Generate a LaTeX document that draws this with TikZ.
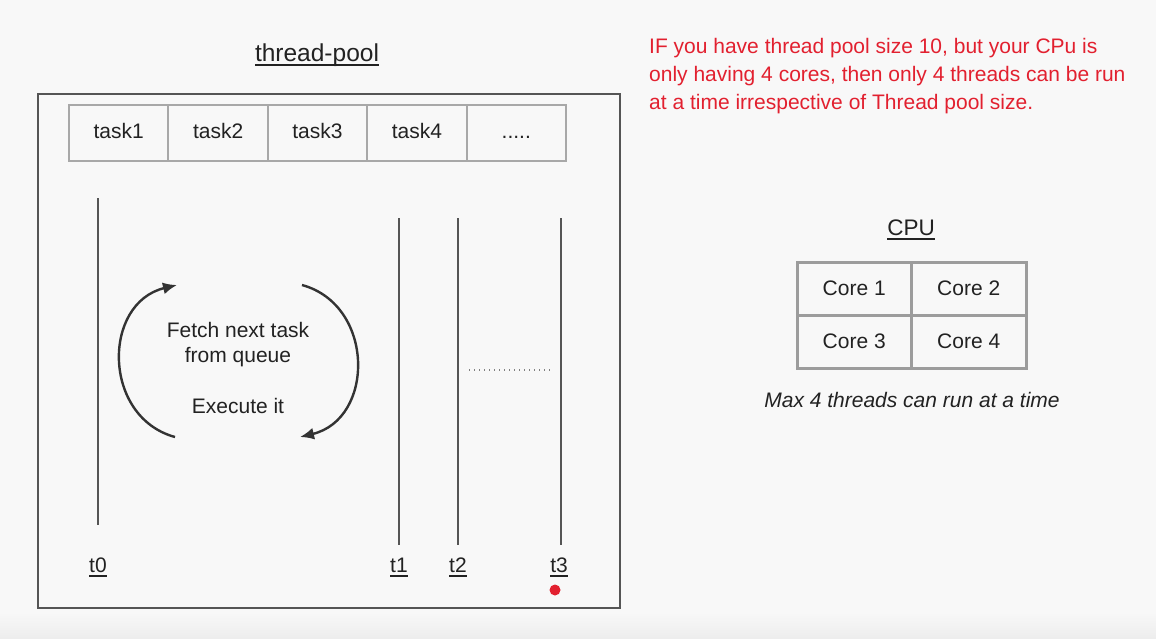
\documentclass[tikz,border=0pt]{standalone}
\usepackage{fontspec}
\setmainfont{Liberation Sans}
\usetikzlibrary{arrows.meta}
\definecolor{bg}{HTML}{F8F8F8}
\definecolor{bgdark}{HTML}{EDEDED}
\definecolor{ink}{HTML}{222222}
\definecolor{boxgray}{HTML}{555555}
\definecolor{cellgray}{HTML}{A8A8A8}
\definecolor{coregray}{HTML}{9C9C9C}
\definecolor{linegray}{HTML}{555555}
\definecolor{arcgray}{HTML}{333333}
\definecolor{alert}{HTML}{E2202F}
\newcommand\ulx[1]{\setbox0\hbox{#1}\rlap{\rule[-5pt]{\wd0}{1.6pt}}\box0}
\begin{document}
\begin{tikzpicture}[x=1pt,y=-1pt,
  txt/.style={font=\fontsize{21}{25}\selectfont, text=ink, inner sep=0pt},
  cell/.style={draw=cellgray, line width=2pt, minimum width=99.4pt, minimum height=56pt, inner sep=0pt, text height=15pt, text depth=5pt, font=\fontsize{21}{25}\selectfont, text=ink},
  core/.style={draw=coregray, line width=3pt, minimum width=114.5pt, minimum height=53pt, inner sep=0pt, font=\fontsize{21}{25}\selectfont, text=ink},
  thread/.style={draw=linegray, line width=1.4pt},
  loopline/.style={draw=arcgray, line width=2.4pt, -{Latex[length=14pt,width=12pt]}},
  redtxt/.style={font=\fontsize{21}{25}\selectfont, text=alert, anchor=base west, inner sep=0pt}]
\fill[bg] (0,0) rectangle (1156,638);
\shade[top color=bg, bottom color=bgdark] (0,612) rectangle (1156,638);
\useasboundingbox (0,0) rectangle (1156,638);

% titles
\node[txt, anchor=base, font=\fontsize{24.5}{28}\selectfont] (title) at (317,61) {\ulx{thread-pool}};
\node[txt, anchor=base, font=\fontsize{22.5}{26}\selectfont] (cpu) at (911,235) {\ulx{CPU}};

% pool box
\node[draw=boxgray, line width=1.5pt, minimum width=582pt, minimum height=514pt, inner sep=0pt] (pool) at (329,351) {};

% task queue
\node[cell] (c1) at (118.7,133) {task1};
\node[cell] (c2) at (218.1,133) {task2};
\node[cell] (c3) at (317.5,133) {task3};
\node[cell] (c4) at (416.9,133) {task4};
\node[cell] (c5) at (516.3,133) {.....};

% threads
\coordinate (t0a) at (98,198);  \coordinate (t0b) at (98,525);
\coordinate (t1a) at (399,218); \coordinate (t1b) at (399,545);
\coordinate (t2a) at (458,218); \coordinate (t2b) at (458,545);
\coordinate (t3a) at (561,218); \coordinate (t3b) at (561,545);
\draw[thread] (t0a) -- (t0b);
\draw[thread] (t1a) -- (t1b);
\draw[thread] (t2a) -- (t2b);
\draw[thread] (t3a) -- (t3b);
\node[txt, anchor=base] (l0) at (98,572) {\ulx{t0}};
\node[txt, anchor=base] (l1) at (399,572) {\ulx{t1}};
\node[txt, anchor=base] (l2) at (458,572) {\ulx{t2}};
\node[txt, anchor=base] (l3) at (559,572) {\ulx{t3}};
\fill[alert] (555,590) circle (5.5);

% dotted
\coordinate (da) at (469,370); \coordinate (db) at (551,370);
\draw[draw=gray, line width=1.2pt, dash pattern=on 1pt off 4pt] (da) -- (db);

% loop
\coordinate (la) at (175,437); \coordinate (lb) at (177,285);
\coordinate (ra) at (302,285); \coordinate (rb) at (300,437);
\draw[loopline] (la) .. controls (102,417) and (102,303) .. (lb);
\draw[loopline] (ra) .. controls (375,305) and (375,419) .. (rb);
\node[txt, anchor=base] (f1) at (238,337) {Fetch next task};
\node[txt, anchor=base] (f2) at (238,362) {from queue};
\node[txt, anchor=base] (f3) at (238,413) {Execute it};

% cpu cores
\node[core] (k1) at (854.25,288.5) {Core 1};
\node[core] (k2) at (968.75,288.5) {Core 2};
\node[core] (k3) at (854.25,341.5) {Core 3};
\node[core] (k4) at (968.75,341.5) {Core 4};
\node[txt, anchor=base, font=\fontsize{21}{25}\selectfont\itshape] (max) at (912,407) {Max 4 threads can run at a time};

% note
\node[redtxt] (n1) at (649,53) {IF you have thread pool size 10, but your CPu is};
\node[redtxt] (n2) at (649,81) {only having 4 cores, then only 4 threads can be run};
\node[redtxt] (n3) at (649,109) {at a time irrespective of Thread pool size.};
\end{tikzpicture}
\end{document}
